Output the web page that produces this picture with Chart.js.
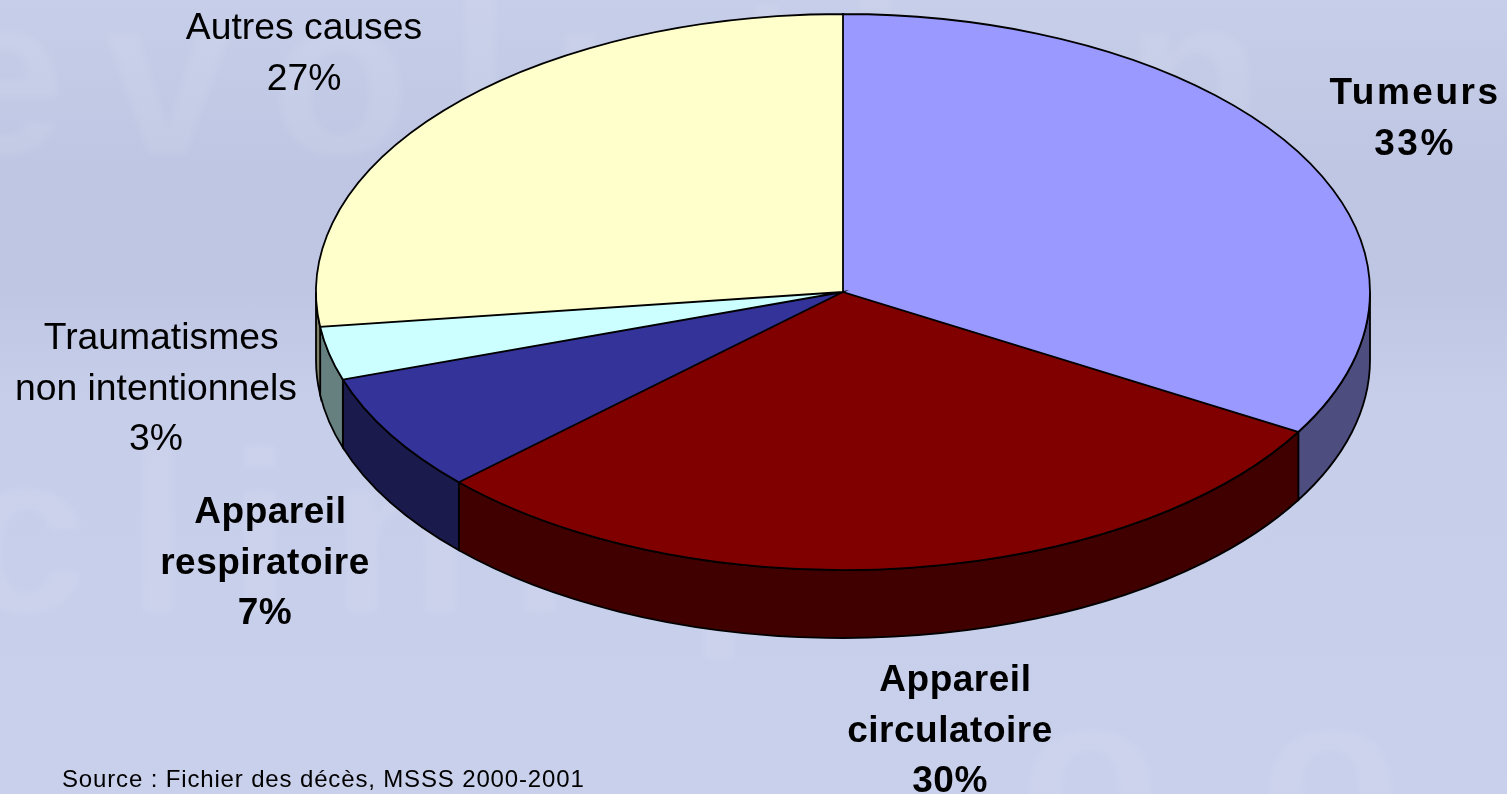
<!DOCTYPE html>
<html lang="fr">
<head>
<meta charset="utf-8">
<title>Causes de décès</title>
<script src="https://cdn.jsdelivr.net/npm/chart.js@4/dist/chart.umd.js"></script>
<style>
  html, body { margin: 0; padding: 0; width: 1507px; height: 794px; overflow: hidden; }
  body { position: relative; background: linear-gradient(180deg, #c7cee9 0, #bfc6e3 170px, #bfc6e3 290px, #c7ceea 400px, #c9d0ec 794px); }
  .mark { position: absolute; font: bold 230px "Liberation Sans", Arial, sans-serif; color: rgba(255, 255, 255, 0.08); white-space: nowrap; filter: blur(3px); }
  #pie { position: absolute; left: 0; top: 0; }
</style>
</head>
<body>
<div class="mark" aria-hidden="true" style="left:-62px;top:-58px;letter-spacing:38px">evolution</div>
<div class="mark" aria-hidden="true" style="left:-40px;top:400px;letter-spacing:38px">clinique</div>
<div class="mark" aria-hidden="true" style="left:1020px;top:641px;letter-spacing:100px">oo</div>
<canvas id="pie" width="1507" height="794"></canvas>
<script>
const categories = [
  ['Tumeurs'],
  [' Appareil', 'circulatoire'],
  [' Appareil', 'respiratoire'],
  [' Traumatismes', 'non intentionnels'],
  ['Autres causes']
];
const values = [33.4, 29.6, 6.9, 3.1, 27];
const boldLabels = [true, true, true, false, false];
const topColors = ['#9999ff', '#800000', '#333399', '#ccffff', '#ffffcc'];
const sideColors = ['#4d4d80', '#400000', '#1a1a4d', '#668080', '#808066'];
const sourceNote = 'Source : Fichier des décès, MSSS 2000-2001';

// where the label blocks sit (centre x, first baseline y) and their tracking
const labelAnchors = [[1415, 104], [950, 691], [265, 523], [156, 349], [304, 39]];
const labelTracking = ['2.5px', '0.5px', '0.5px', '0px', '0px'];

const pieRx = 527;
const pieRy = 278;
const pieDepth = 68;
const outlineWidth = 1.8;

// tilts the flat pie: sides underneath, squashed arcs, outlines on top
const tiltPlugin = {
  id: 'tilt',
  beforeDatasetsDraw(chart) {
    const ctx = chart.ctx;
    const arcs = chart.getDatasetMeta(0).data;
    const cx = arcs[0].x;
    const cy = arcs[0].y;
    const r = arcs[0].outerRadius;

    ctx.save();
    ctx.lineWidth = outlineWidth;
    ctx.strokeStyle = '#000';
    arcs.forEach((arc, i) => {
      const a0 = Math.max(arc.startAngle, 0);
      const a1 = Math.min(arc.endAngle, Math.PI);
      if (a1 <= a0) return;
      ctx.beginPath();
      ctx.ellipse(cx, cy, pieRx, pieRy, 0, a0, a1);
      ctx.ellipse(cx, cy + pieDepth, pieRx, pieRy, 0, a1, a0, true);
      ctx.closePath();
      ctx.fillStyle = sideColors[i];
      ctx.fill();
      ctx.stroke();
    });
    ctx.restore();

    ctx.save();
    ctx.translate(cx, cy);
    ctx.scale(pieRx / r, pieRy / r);
    ctx.translate(-cx, -cy);
  },
  afterDatasetsDraw(chart) {
    const ctx = chart.ctx;
    const arcs = chart.getDatasetMeta(0).data;
    ctx.beginPath();
    arcs.forEach((arc) => {
      ctx.moveTo(arc.x, arc.y);
      ctx.arc(arc.x, arc.y, arc.outerRadius, arc.startAngle, arc.endAngle);
      ctx.closePath();
    });
    ctx.restore();
    ctx.save();
    ctx.lineWidth = outlineWidth;
    ctx.strokeStyle = '#000';
    ctx.stroke();
    ctx.restore();
  },
  afterDraw(chart) {
    const ctx = chart.ctx;
    ctx.save();
    ctx.fillStyle = '#000';
    ctx.textAlign = 'center';
    categories.forEach((lines, i) => {
      ctx.font = (boldLabels[i] ? 'bold 37px' : '37.3px') + ' "Liberation Sans", Arial, sans-serif';
      ctx.letterSpacing = labelTracking[i];
      const [x, y] = labelAnchors[i];
      lines.concat(Math.round(values[i]) + '%').forEach((line, k) => {
        ctx.fillText(line, x, y + k * 50.5);
      });
    });
    ctx.textAlign = 'left';
    ctx.font = '24px "Liberation Sans", Arial, sans-serif';
    ctx.letterSpacing = '0.85px';
    ctx.fillText(sourceNote, 62, 787);
    ctx.restore();
  }
};

new Chart(document.getElementById('pie'), {
  type: 'pie',
  data: {
    labels: categories,
    datasets: [{
      data: values,
      backgroundColor: topColors,
      borderWidth: 0,
      clip: false
    }]
  },
  options: {
    responsive: false,
    animation: false,
    events: [],
    layout: { padding: { left: 179, right: 0, top: 0, bottom: 210 } },
    plugins: {
      legend: { display: false },
      tooltip: { enabled: false }
    }
  },
  plugins: [tiltPlugin]
});
</script>
</body>
</html>
